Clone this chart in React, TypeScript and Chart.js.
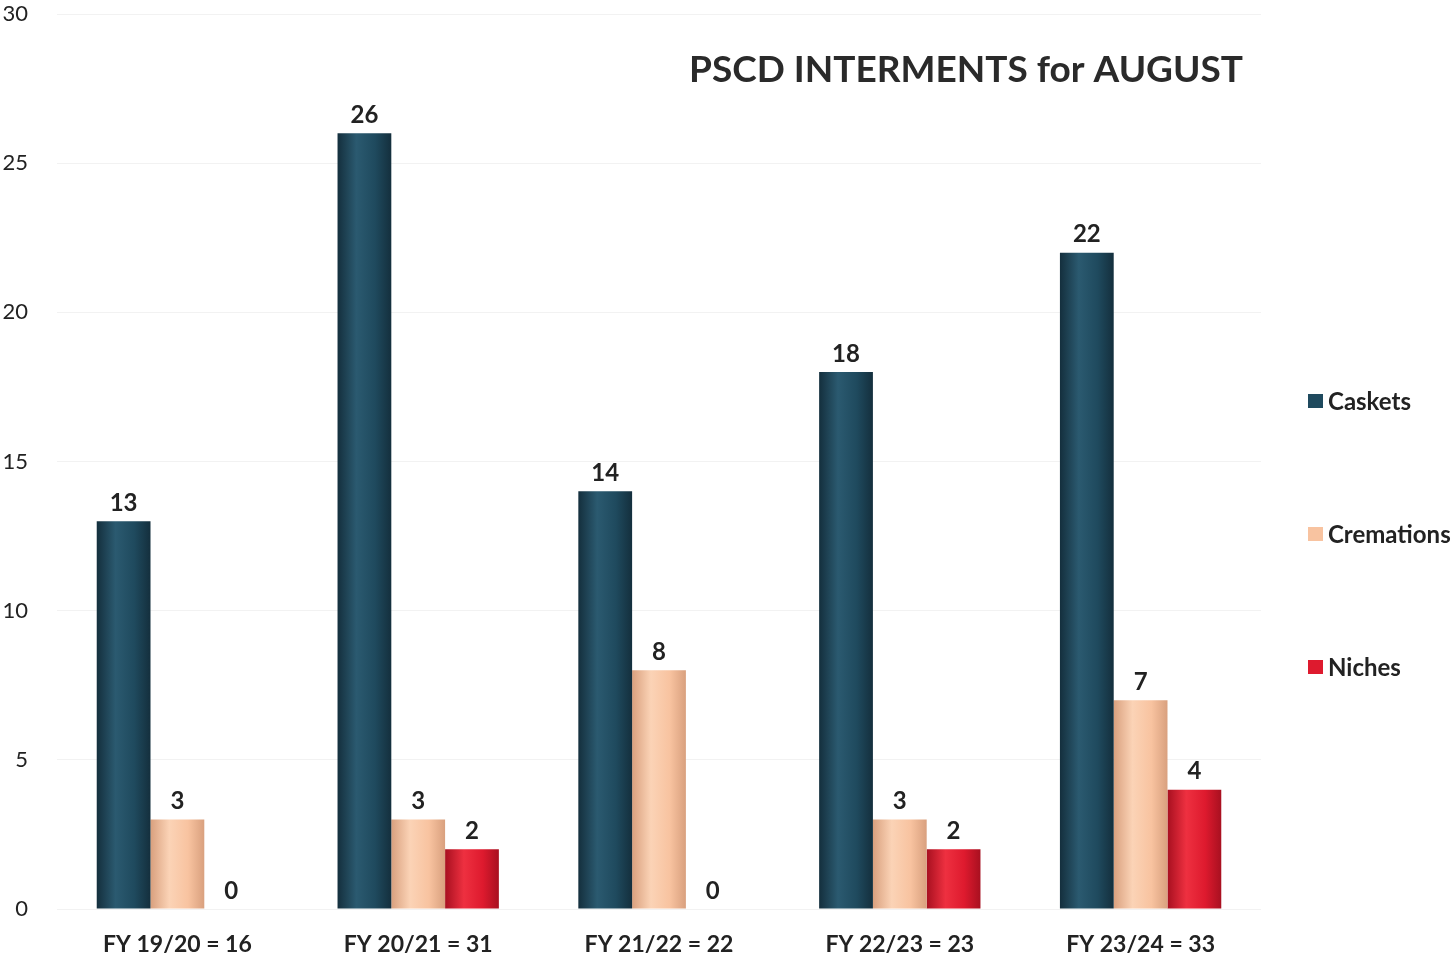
import React, { useEffect, useRef } from "react";
import { Chart, registerables } from "chart.js";

Chart.register(...registerables);

const categories = ["FY 19/20 = 16", "FY 20/21 = 31", "FY 21/22 = 22", "FY 22/23 = 23", "FY 23/24 = 33"];
const caskets = [13, 26, 14, 18, 22];
const cremations = [3, 3, 8, 3, 7];
const niches = [0, 2, 0, 2, 4];
const seriesNames = ["Caskets", "Cremations", "Niches"];
const seriesColors = ["#1F4A5E", "#F8C3A0", "#DE1A2E"];
const seriesEdge = ["#142F3D", "#D9A07E", "#A81020"];
const seriesLight = ["#2B5A70", "#FBD3B6", "#EE3040"];
const titleText = "PSCD INTERMENTS for AUGUST";
const yMin = 0;
const yMax = 30;
const yStep = 5;

const FONT = "Lato, 'Open Sans', sans-serif";
const CAT_PCT = 0.67;

function cylinderFill(c: any) {
  const i = c.datasetIndex;
  const chart = c.chart;
  const xs = chart.scales && chart.scales.x;
  if (!xs || c.type !== "data" || !chart.chartArea) return seriesColors[i];
  const n = chart.data.labels.length;
  const nSets = chart.data.datasets.length;
  const catW = xs.width / n;
  const barW = (catW * CAT_PCT) / nSets;
  const cx = xs.getPixelForValue(c.dataIndex) + (i - (nSets - 1) / 2) * barW;
  const g = chart.ctx.createLinearGradient(cx - barW / 2, 0, cx + barW / 2, 0);
  g.addColorStop(0, seriesEdge[i]);
  g.addColorStop(0.35, seriesLight[i]);
  g.addColorStop(0.7, seriesColors[i]);
  g.addColorStop(1, seriesEdge[i]);
  return g;
}

const valueLabels = {
  id: "valueLabels",
  afterDatasetsDraw(chart: any) {
    const ctx = chart.ctx;
    ctx.save();
    ctx.font = `bold 24px ${FONT}`;
    ctx.fillStyle = "#222";
    ctx.textAlign = "center";
    ctx.textBaseline = "bottom";
    chart.data.datasets.forEach((ds: any, i: number) => {
      const meta = chart.getDatasetMeta(i);
      meta.data.forEach((bar: any, j: number) => {
        ctx.fillText(String(ds.data[j]), bar.x, bar.y - 6);
      });
    });
    ctx.restore();
  },
};

const titleAndLegend = {
  id: "titleAndLegend",
  afterDraw(chart: any) {
    const ctx = chart.ctx;
    const area = chart.chartArea;
    ctx.save();
    ctx.font = `bold 37px ${FONT}`;
    ctx.fillStyle = "#2a2a2a";
    ctx.textAlign = "center";
    ctx.textBaseline = "middle";
    ctx.fillText(titleText, area.left + 909, area.top + 56);

    ctx.font = `bold 24px ${FONT}`;
    ctx.textAlign = "left";
    const lx = area.right + 47;
    const baseY = area.top + 387;
    chart.data.datasets.forEach((ds: any, i: number) => {
      const y = baseY + i * 133;
      ctx.fillStyle = seriesColors[i];
      ctx.fillRect(lx, y - 7, 15, 14);
      ctx.fillStyle = "#222";
      ctx.fillText(ds.label, lx + 20, y + 1);
    });
    ctx.restore();
  },
};

export default function App() {
  const ref = useRef<HTMLCanvasElement | null>(null);
  useEffect(() => {
    if (!ref.current) return;
    const chart = new Chart(ref.current, {
      type: "bar",
      data: {
        labels: categories,
        datasets: [
          { label: seriesNames[0], data: caskets, backgroundColor: cylinderFill },
          { label: seriesNames[1], data: cremations, backgroundColor: cylinderFill },
          { label: seriesNames[2], data: niches, backgroundColor: cylinderFill },
        ],
      },
      options: {
        animation: false,
        responsive: true,
        maintainAspectRatio: false,
        layout: { padding: { top: 14, right: 192, left: 0, bottom: 0 } },
        datasets: { bar: { categoryPercentage: CAT_PCT, barPercentage: 1.0 } },
        plugins: {
          legend: { display: false },
          title: { display: false },
          tooltip: { enabled: false },
        },
        scales: {
          x: {
            grid: { display: false, drawTicks: false },
            border: { display: false },
            ticks: {
              color: "#222",
              padding: 22,
              font: { family: FONT, size: 23, weight: "bold" },
              maxRotation: 0,
            },
            afterFit(scale: any) {
              scale.height = 51;
            },
          },
          y: {
            min: yMin,
            max: yMax,
            grid: { color: "rgba(0,0,0,0.05)", drawTicks: false },
            border: { display: false },
            ticks: {
              stepSize: yStep,
              color: "#222",
              padding: 29,
              font: { family: FONT, size: 22 },
            },
            afterFit(scale: any) {
              scale.width = 57;
              scale.paddingTop = 0;
              scale.paddingBottom = 0;
            },
          },
        },
      },
      plugins: [valueLabels, titleAndLegend],
    });
    return () => chart.destroy();
  }, []);
  return (
    <div style={{ position: "absolute", left: 0, top: 0, width: 1453, height: 960, background: "#fff" }}>
      <canvas ref={ref} />
    </div>
  );
}
